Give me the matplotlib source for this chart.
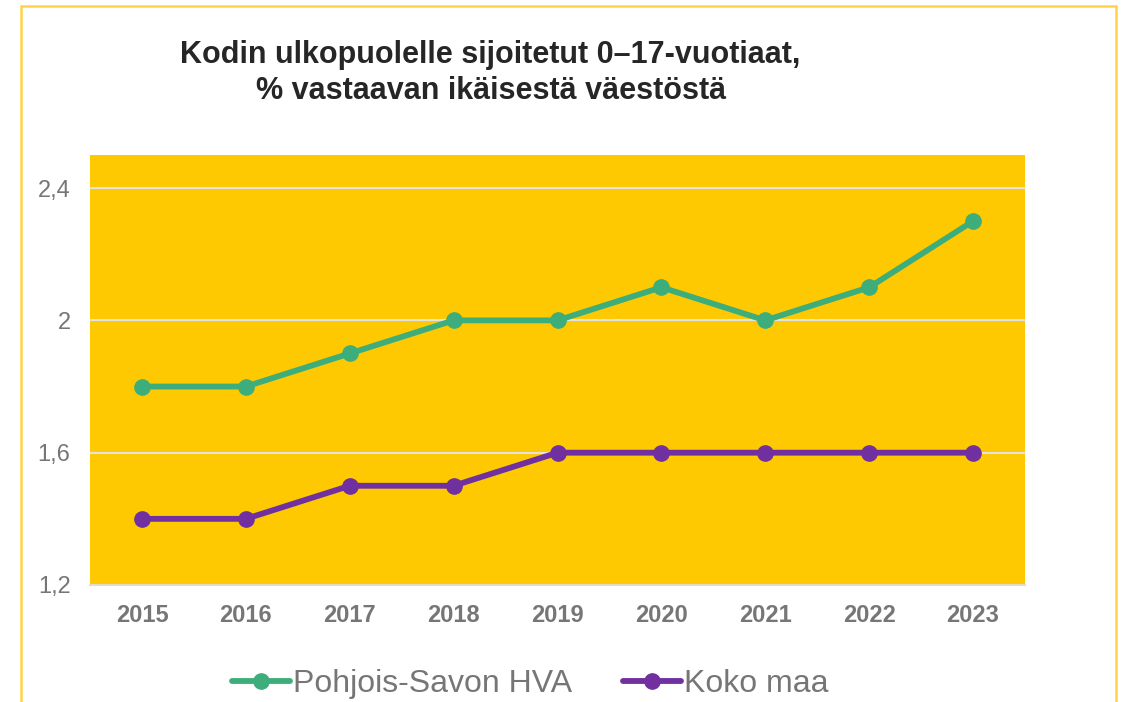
import matplotlib.pyplot as plt
from matplotlib.patches import Rectangle
from matplotlib.ticker import FixedLocator

YEARS = ["2015", "2016", "2017", "2018", "2019", "2020", "2021", "2022", "2023"]
POHJOIS_SAVO = [1.8, 1.8, 1.9, 2.0, 2.0, 2.1, 2.0, 2.1, 2.3]
KOKO_MAA = [1.4, 1.4, 1.5, 1.5, 1.6, 1.6, 1.6, 1.6, 1.6]
YTICKS = [1.2, 1.6, 2.0, 2.4]
YTICKLABELS = ["1,2", "1,6", "2", "2,4"]

GREEN = "#3DAE7B"
PURPLE = "#7030A0"
YELLOW = "#FFC901"
GREY = "#767676"

plt.rcParams["font.family"] = ["Liberation Sans", "DejaVu Sans"]

fig = plt.figure(figsize=(11.28, 7.02), dpi=100)
fig.patch.set_facecolor("white")
ax = fig.add_axes([90 / 1128, 1 - 585 / 702, (1025 - 90) / 1128, (585 - 155) / 702])
ax.set_facecolor(YELLOW)

x = range(len(YEARS))
ax.plot(x, POHJOIS_SAVO, color=GREEN, lw=4.2, marker="o", ms=11, label="Pohjois-Savon HVA",
        solid_capstyle="round", zorder=3)
ax.plot(x, KOKO_MAA, color=PURPLE, lw=4.2, marker="o", ms=11, label="Koko maa",
        solid_capstyle="round", zorder=3)

ax.set_xlim(-0.5, len(YEARS) - 0.5)
ax.set_ylim(1.2, 2.5)
ax.set_xticks(list(x))
ax.set_xticklabels(YEARS, fontsize=17, fontweight="bold", color=GREY)
ax.yaxis.set_major_locator(FixedLocator(YTICKS))
ax.set_yticklabels(YTICKLABELS, fontsize=17, color=GREY)
ax.tick_params(axis="both", length=0)
ax.tick_params(axis="x", pad=14)
ax.tick_params(axis="y", pad=14)
ax.grid(axis="y", color="#E3E3E3", lw=1.5, zorder=1)
for s in ["top", "right", "left"]:
    ax.spines[s].set_visible(False)
ax.spines["bottom"].set_color("#E6DCC0")
ax.spines["bottom"].set_linewidth(1.5)

fig.text(0.435, 1 - 73 / 702, "Kodin ulkopuolelle sijoitetut 0–17-vuotiaat,\n% vastaavan ikäisestä väestöstä",
         ha="center", va="center", fontsize=22, fontweight="bold", color="#262626", linespacing=1.25)

fig.legend(loc="center", bbox_to_anchor=(0.47, 1 - 684 / 702), ncol=2, frameon=False,
           fontsize=23, handlelength=1.8, handletextpad=0.1, columnspacing=1.6,
           labelcolor=GREY)

fig.add_artist(Rectangle((21 / 1128, -0.05), (1116 - 21) / 1128, 1.05 - 6 / 702,
                         transform=fig.transFigure, fill=False, edgecolor="#FFD24A", lw=1.8))

fig.savefig("out.png", dpi=100)
